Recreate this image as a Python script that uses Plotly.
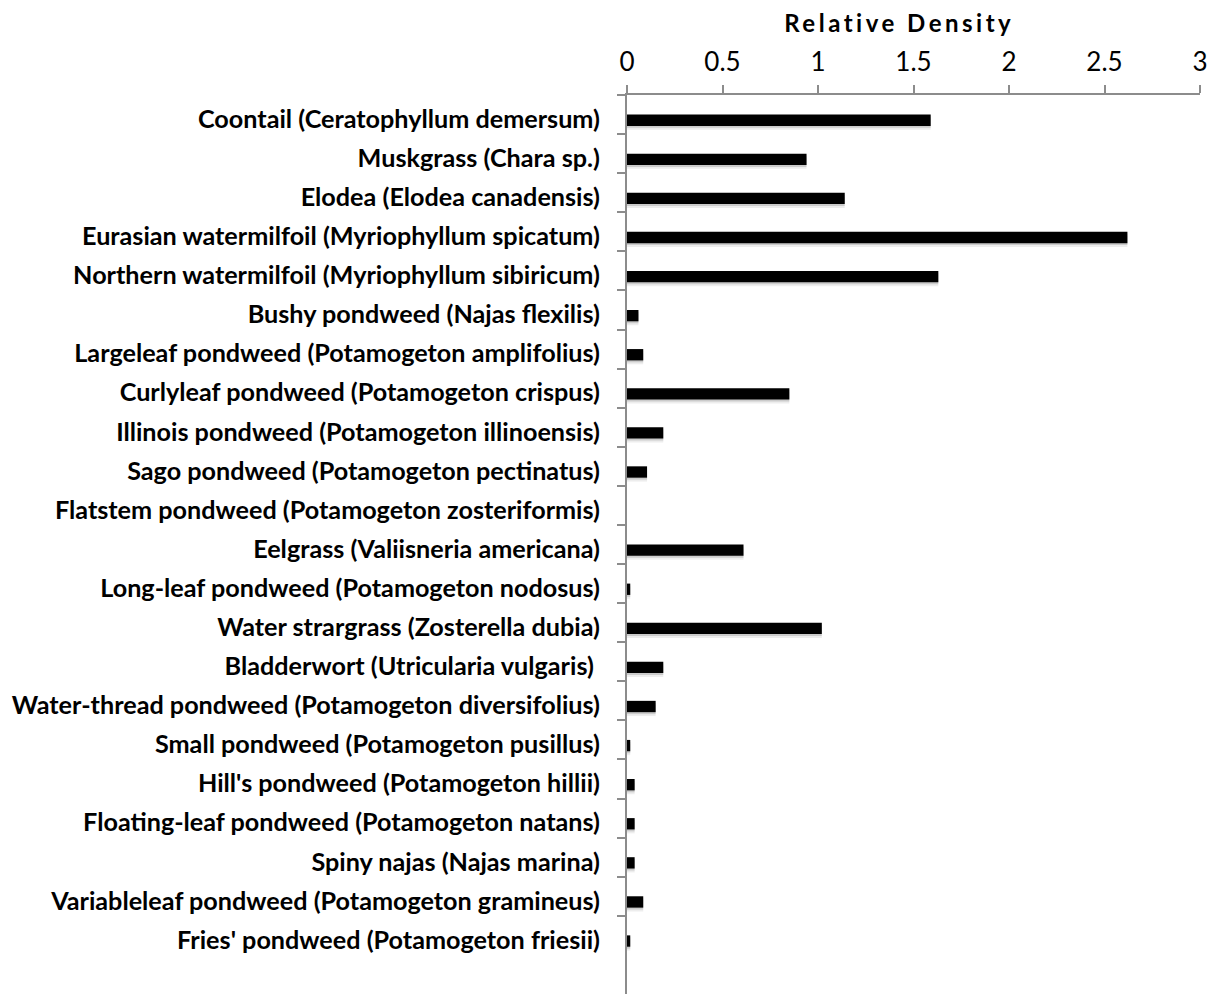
import plotly.graph_objects as go

species = [
    "Coontail (Ceratophyllum demersum)",
    "Muskgrass (Chara sp.)",
    "Elodea (Elodea canadensis)",
    "Eurasian watermilfoil (Myriophyllum spicatum)",
    "Northern watermilfoil (Myriophyllum sibiricum)",
    "Bushy pondweed (Najas flexilis)",
    "Largeleaf pondweed (Potamogeton amplifolius)",
    "Curlyleaf pondweed (Potamogeton crispus)",
    "Illinois pondweed (Potamogeton illinoensis)",
    "Sago pondweed (Potamogeton pectinatus)",
    "Flatstem pondweed (Potamogeton zosteriformis)",
    "Eelgrass (Valiisneria americana)",
    "Long-leaf pondweed (Potamogeton nodosus)",
    "Water strargrass (Zosterella dubia)",
    "Bladderwort (Utricularia vulgaris) ",
    "Water-thread pondweed (Potamogeton diversifolius)",
    "Small pondweed (Potamogeton pusillus)",
    "Hill's pondweed (Potamogeton hillii)",
    "Floating-leaf pondweed (Potamogeton natans)",
    "Spiny najas (Najas marina)",
    "Variableleaf pondweed (Potamogeton gramineus)",
    "Fries' pondweed (Potamogeton friesii)",
]

relative_density = [
    1.59, 0.94, 1.14, 2.62, 1.63, 0.06, 0.085, 0.85, 0.19, 0.105, 0.0,
    0.61, 0.017, 1.02, 0.19, 0.15, 0.017, 0.04, 0.04, 0.04, 0.085, 0.017,
]

x_ticks = [0, 0.5, 1, 1.5, 2, 2.5, 3]

AXIS_GRAY = "#8c8c8c"
FONT = "Lato"
N = len(species)
LABEL_SHIFT = 0.115  # labels sit slightly below the band centre, as in the original

fig = go.Figure()

# soft drop shadow (two layers for a blurred look)
for off, alpha in [(0.1, 0.07), (0.05, 0.14)]:
    fig.add_trace(go.Bar(
        y=species, x=relative_density, orientation="h",
        marker=dict(color=f"rgba(0,0,0,{alpha})", line=dict(width=0)),
        width=0.29, offset=off, hoverinfo="skip", showlegend=False,
    ))
fig.add_trace(go.Bar(
    y=species, x=relative_density, orientation="h",
    marker=dict(color="#000000", line=dict(width=0)),
    width=0.29, offset=0.0, showlegend=False, name="Relative Density",
))
# invisible carrier for the category labels axis
fig.add_trace(go.Scatter(
    y=species, x=[0] * N, yaxis="y2", mode="markers",
    marker=dict(opacity=0), hoverinfo="skip", showlegend=False,
))

fig.add_annotation(
    text="Relative Density", xref="paper", yref="paper",
    x=0.475, y=1 + 73 / 899, xanchor="center", yanchor="middle",
    showarrow=False,
    font=dict(family=FONT, size=24, color="black", weight="bold"),
)

fig.update_layout(
    width=1218, height=994,
    margin=dict(l=627, r=18, t=95, b=0),
    paper_bgcolor="white", plot_bgcolor="white",
    barmode="overlay",
    font=dict(family=FONT, color="black"),
    xaxis=dict(
        side="top", range=[0, 3], tickvals=x_ticks,
        ticktext=[f"{v:g}" for v in x_ticks],
        showgrid=False, zeroline=False,
        showline=True, linecolor=AXIS_GRAY, linewidth=1.5,
        ticks="outside", ticklen=8, tickcolor=AXIS_GRAY, tickwidth=1.5,
        tickfont=dict(family=FONT, size=26, color="black"),
        ticklabelstandoff=4,
    ),
    yaxis=dict(
        type="category", categoryorder="array", categoryarray=species,
        range=[N + 0.5, -0.5],
        showgrid=False, zeroline=False,
        showline=True, linecolor=AXIS_GRAY, linewidth=1.5,
        ticks="outside", tickson="boundaries", ticklen=8,
        tickcolor=AXIS_GRAY, tickwidth=1.5,
        showticklabels=False,
    ),
    yaxis2=dict(
        type="category", categoryorder="array", categoryarray=species,
        overlaying="y", side="left", anchor="x",
        range=[N + 0.5 - LABEL_SHIFT, -0.5 - LABEL_SHIFT],
        showgrid=False, zeroline=False, showline=False,
        ticks="outside", ticklen=8, tickcolor="rgba(0,0,0,0)",
        tickfont=dict(family=FONT, size=25.2, color="black", weight="bold"),
        ticklabelstandoff=13,
    ),
)

post = """
document.body.style.margin = '0';
document.querySelectorAll('.annotation-text').forEach(function(e){
  e.style.letterSpacing = '3.5px';
});
"""
fig.write_html("out.html", post_script=post, config={"displayModeBar": False})
